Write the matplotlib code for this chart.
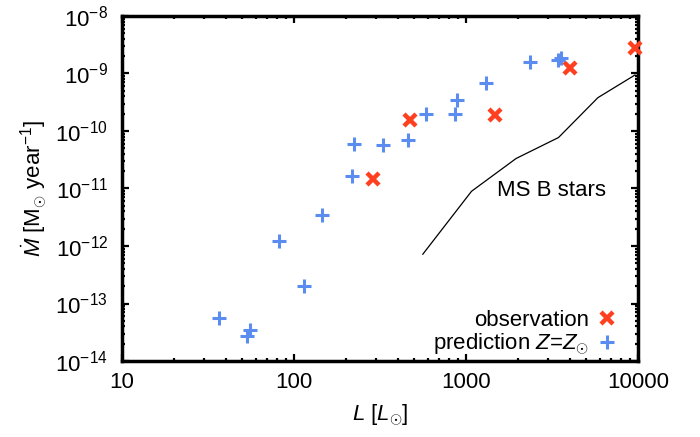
import matplotlib
matplotlib.use("Agg")
import matplotlib.pyplot as plt
from matplotlib.ticker import LogLocator, NullFormatter

plt.rcParams["font.family"] = ["Liberation Sans", "DejaVu Sans"]
plt.rcParams["mathtext.fontset"] = "custom"
plt.rcParams["mathtext.rm"] = "Liberation Sans"
plt.rcParams["mathtext.it"] = "Liberation Sans:italic"
plt.rcParams["mathtext.bf"] = "Liberation Sans:bold"

# predicted mass-loss rates (Z = Z_sun)
pred_L = [36.5, 53.4, 55.6, 81.5, 115, 146, 216, 224, 328, 461, 585, 859, 889, 1312, 2344, 3412, 3556]
pred_mdot = [5.65e-14, 2.75e-14, 3.45e-14, 1.22e-12, 2.0e-13, 3.52e-12, 1.67e-11, 5.9e-11,
             5.8e-11, 7.1e-11, 1.95e-10, 1.95e-10, 3.46e-10, 6.7e-10, 1.6e-9, 1.7e-9, 1.87e-9]

# observed values
obs_L = [287, 475, 1469, 4011, 9596]
obs_mdot = [1.46e-11, 1.54e-10, 1.93e-10, 1.24e-9, 2.79e-9]

# main-sequence B stars relation
ms_L = [561, 1077, 1957, 3451, 5848, 9596]
ms_mdot = [7.2e-13, 8.95e-12, 3.33e-11, 7.7e-11, 3.8e-10, 9.4e-10]

fs = 16
red = "#ff4020"
blue = "#5b8cf0"

fig = plt.figure(figsize=(7, 4.37), dpi=100)
ax = fig.add_axes([0.1743, 0.1739, 0.7371, 0.7895])

ax.plot(ms_L, ms_mdot, color="black", lw=0.9)
ax.plot(obs_L, obs_mdot, ls="none", marker="x", ms=9, mew=3.2, color=red,
        label="observation", clip_on=False, zorder=3)
ax.plot(pred_L, pred_mdot, ls="none", marker="+", ms=9.5, mew=2.2, color=blue,
        label=r"prediction $Z$=$Z_{\odot}$", zorder=3)

ax.text(1507, 9.3e-12, "MS B stars", fontsize=fs, ha="left", va="center")

ax.set_xscale("log")
ax.set_yscale("log")
ax.set_xlim(10, 10000)
ax.set_ylim(1e-14, 1e-8)

ax.xaxis.set_minor_locator(LogLocator(base=10, subs=range(2, 10), numticks=20))
ax.yaxis.set_minor_locator(LogLocator(base=10, subs=range(2, 10), numticks=20))
ax.xaxis.set_minor_formatter(NullFormatter())
ax.yaxis.set_minor_formatter(NullFormatter())
ax.set_xticks([10, 100, 1000, 10000])
ax.set_xticklabels(["10", "100", "1000", "10000"])

ax.tick_params(which="both", direction="in", top=True, right=True, width=1.6, labelsize=fs)
ax.tick_params(which="major", length=5)
ax.tick_params(which="minor", length=2.5)
ax.tick_params(axis="x", which="major", pad=8)
ax.tick_params(axis="y", which="major", pad=10)
for s in ax.spines.values():
    s.set_linewidth(2.5)

ax.set_xlabel(r"$L$ [$L_{\odot}$]", fontsize=fs, labelpad=7)
ax.set_ylabel(r"$\dot{M}$ [M$_{\odot}$ year$^{-1}$]", fontsize=fs, labelpad=4)

ax.legend(loc="lower right", bbox_to_anchor=(0.961, 0.012), frameon=False,
          markerfirst=False, fontsize=fs, handlelength=1.0, handletextpad=0.3,
          borderpad=0, borderaxespad=0, labelspacing=0.0)

fig.savefig("out.png", dpi=100)
